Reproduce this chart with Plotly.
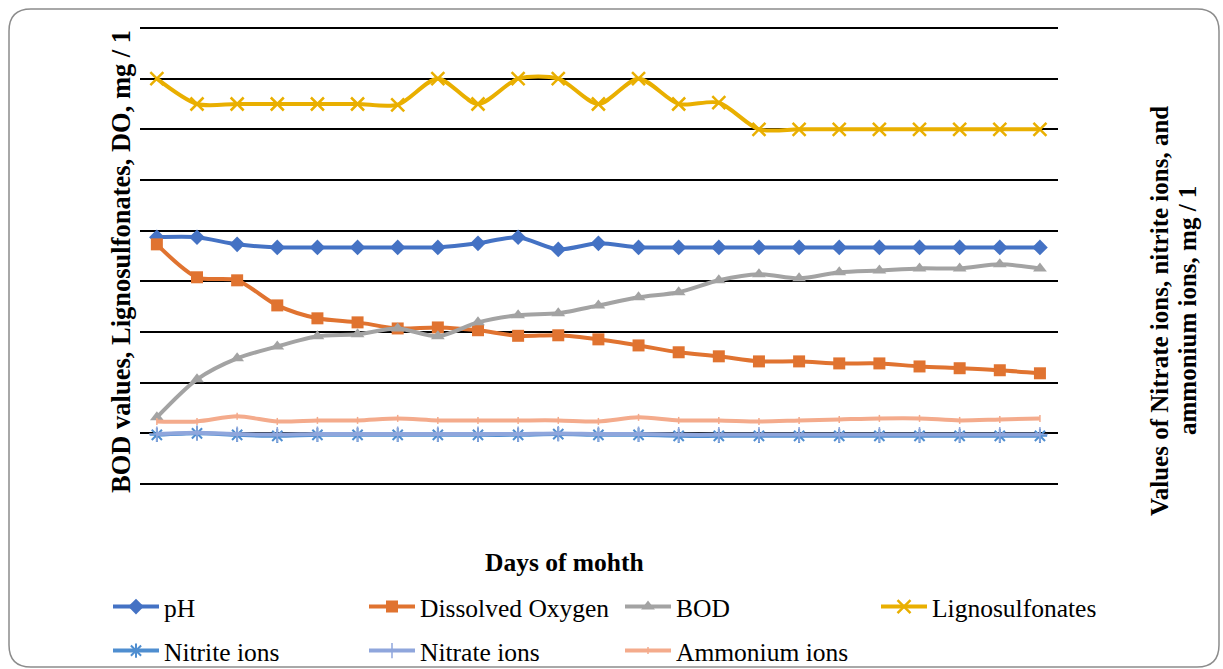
import plotly.graph_objects as go

# -------------------------------------------------
# Data
# -------------------------------------------------
days = list(range(1, 24))

ph = [7.74, 7.74, 7.46, 7.34, 7.34, 7.34, 7.34, 7.34, 7.50, 7.74, 7.26, 7.50,
      7.34, 7.34, 7.34, 7.34, 7.34, 7.34, 7.34, 7.34, 7.34, 7.34, 7.34]

dissolved_oxygen = [7.46, 6.16, 6.04, 5.05, 4.54, 4.38, 4.14, 4.18, 4.07, 3.85, 3.87, 3.71,
                    3.47, 3.20, 3.04, 2.84, 2.84, 2.76, 2.76, 2.64, 2.57, 2.49, 2.37]

bod = [0.63, 2.13, 2.96, 3.43, 3.83, 3.91, 4.14, 3.83, 4.38, 4.66, 4.74, 5.05,
       5.37, 5.57, 6.04, 6.28, 6.12, 6.36, 6.43, 6.51, 6.51, 6.67, 6.51]

lignosulfonates = [14, 13, 13, 13, 13, 13, 12.97, 14, 13, 14, 14, 13,
                   14, 13, 13.05, 12, 12, 12, 12, 12, 12, 12, 12]

nitrite = [-0.06, 0.0, -0.06, -0.1, -0.06, -0.06, -0.06, -0.06, -0.06, -0.06, -0.03, -0.06,
           -0.06, -0.1, -0.1, -0.1, -0.1, -0.1, -0.1, -0.1, -0.1, -0.1, -0.1]

nitrate = [-0.03, 0.02, -0.03, -0.05, -0.03, -0.03, -0.03, -0.03, -0.03, -0.03, -0.01, -0.03,
           -0.03, -0.05, -0.05, -0.05, -0.05, -0.05, -0.05, -0.05, -0.05, -0.05, -0.05]

ammonium = [0.47, 0.47, 0.67, 0.47, 0.51, 0.51, 0.59, 0.51, 0.51, 0.51, 0.51, 0.47,
            0.63, 0.51, 0.51, 0.47, 0.51, 0.55, 0.59, 0.59, 0.51, 0.55, 0.59]

y_min, y_max, y_step = -2, 16, 2

# -------------------------------------------------
# Layout geometry (pixels)
# -------------------------------------------------
W, H = 1223, 669
L, R = 140, 1058
GRID_TOP, GRID_BOT = 28, 484
pad_px = 3
upx = (GRID_BOT - GRID_TOP) / (y_max - y_min)
pad = pad_px / upx
T, B = GRID_TOP - pad_px, GRID_BOT + pad_px
PW, PH = R - L, B - T
FONT = "Liberation Serif, Times New Roman, serif"


def px_x(x):
    return (x - L) / PW


def px_y(y):
    return (B - y) / PH


fig = go.Figure()

primary = [
    ("pH", ph, "#4472C4", "diamond", 12, None),
    ("Dissolved Oxygen", dissolved_oxygen, "#E07330", "square", 12, None),
    ("BOD", bod, "#A3A3A3", "triangle-up", 12, None),
    ("Lignosulfonates", lignosulfonates, "#E9AF00", "x-thin", 13, 2.5),
]
for name, vals, col, sym, size, lw in primary:
    marker = dict(symbol=sym, size=size, color=col)
    if lw:
        marker["line"] = dict(color=col, width=lw)
    fig.add_trace(go.Scatter(
        x=days, y=vals, name=name, mode="lines+markers",
        line=dict(color=col, width=4, shape="spline", smoothing=0.8),
        marker=marker, legend="legend",
    ))

secondary = [
    ("Nitrite ions", nitrite, "#4F8ED0", "asterisk", 12, 2),
    ("Nitrate ions", nitrate, "#8FA6DC", "cross-thin", 11, 1.5),
    ("Ammonium ions", ammonium, "#F4AB8C", "line-ns", 5, 1.5),
]
for name, vals, col, sym, size, lw in secondary:
    fig.add_trace(go.Scatter(
        x=days, y=vals, name=name, mode="lines+markers", yaxis="y2",
        line=dict(color=col, width=4, shape="spline", smoothing=0.8),
        marker=dict(symbol=sym, size=size, color=col, line=dict(color=col, width=lw)),
        legend="legend2",
    ))

# rounded outer frame
r = 22
x0, x1, y0, y1 = 9, 1219, 9, 667
pts = lambda x, y: f"{px_x(x):.5f},{px_y(y):.5f}"
frame = (f"M{pts(x0 + r, y0)} L{pts(x1 - r, y0)} Q{pts(x1, y0)} {pts(x1, y0 + r)} "
         f"L{pts(x1, y1 - r)} Q{pts(x1, y1)} {pts(x1 - r, y1)} "
         f"L{pts(x0 + r, y1)} Q{pts(x0, y1)} {pts(x0, y1 - r)} "
         f"L{pts(x0, y0 + r)} Q{pts(x0, y0)} {pts(x0 + r, y0)} Z")

legend_common = dict(
    orientation="h", xref="paper", yref="paper", xanchor="left", yanchor="middle",
    font=dict(family=FONT, size=25.5, color="black"),
    itemwidth=46, entrywidth=195, entrywidthmode="pixels",
    bgcolor="rgba(0,0,0,0)", borderwidth=0, traceorder="normal",
)


def title_note(text, x, y, size, angle=0):
    return dict(text=f"<b>{text}</b>", textangle=angle, x=px_x(x), y=px_y(y),
                xref="paper", yref="paper", xanchor="center", yanchor="middle",
                showarrow=False, font=dict(family=FONT, size=size, color="black"))


fig.update_layout(
    width=W, height=H,
    margin=dict(l=L, r=W - R, t=T, b=H - B, autoexpand=False),
    paper_bgcolor="white", plot_bgcolor="white",
    font=dict(family=FONT, color="black"),
    showlegend=True,
    legend=dict(x=px_x(108), y=px_y(607), **legend_common),
    legend2=dict(x=px_x(108), y=px_y(651), **legend_common),
    xaxis=dict(range=[0.58, 23.45], showgrid=False, showticklabels=False,
               ticks="", zeroline=False, showline=False),
    yaxis=dict(range=[y_min - pad, y_max + pad], tick0=y_min, dtick=y_step,
               showgrid=True, gridcolor="black", gridwidth=2,
               showticklabels=False, ticks="", zeroline=False, showline=False),
    yaxis2=dict(range=[y_min - pad, y_max + pad], overlaying="y", side="right",
                showgrid=False, showticklabels=False, ticks="", zeroline=False,
                showline=False),
    shapes=[dict(type="path", xref="paper", yref="paper", path=frame,
                 line=dict(color="#8C8C8C", width=1.5), layer="above")],
    annotations=[
        title_note("BOD values, Lignosulfonates, DO, mg / 1", 121, 262, 26.5, -90),
        title_note("Days of mohth", 564, 562, 25.5),
        title_note("Values of Nitrate ions, nitrite ions, and", 1159, 311, 25, -90),
        title_note("ammonium ions, mg / 1", 1187, 311, 25, -90),
    ],
)

fig.write_html(
    "out.html",
    config={"displayModeBar": False},
    post_script="document.body.style.margin='0';document.body.style.overflow='hidden';",
)
